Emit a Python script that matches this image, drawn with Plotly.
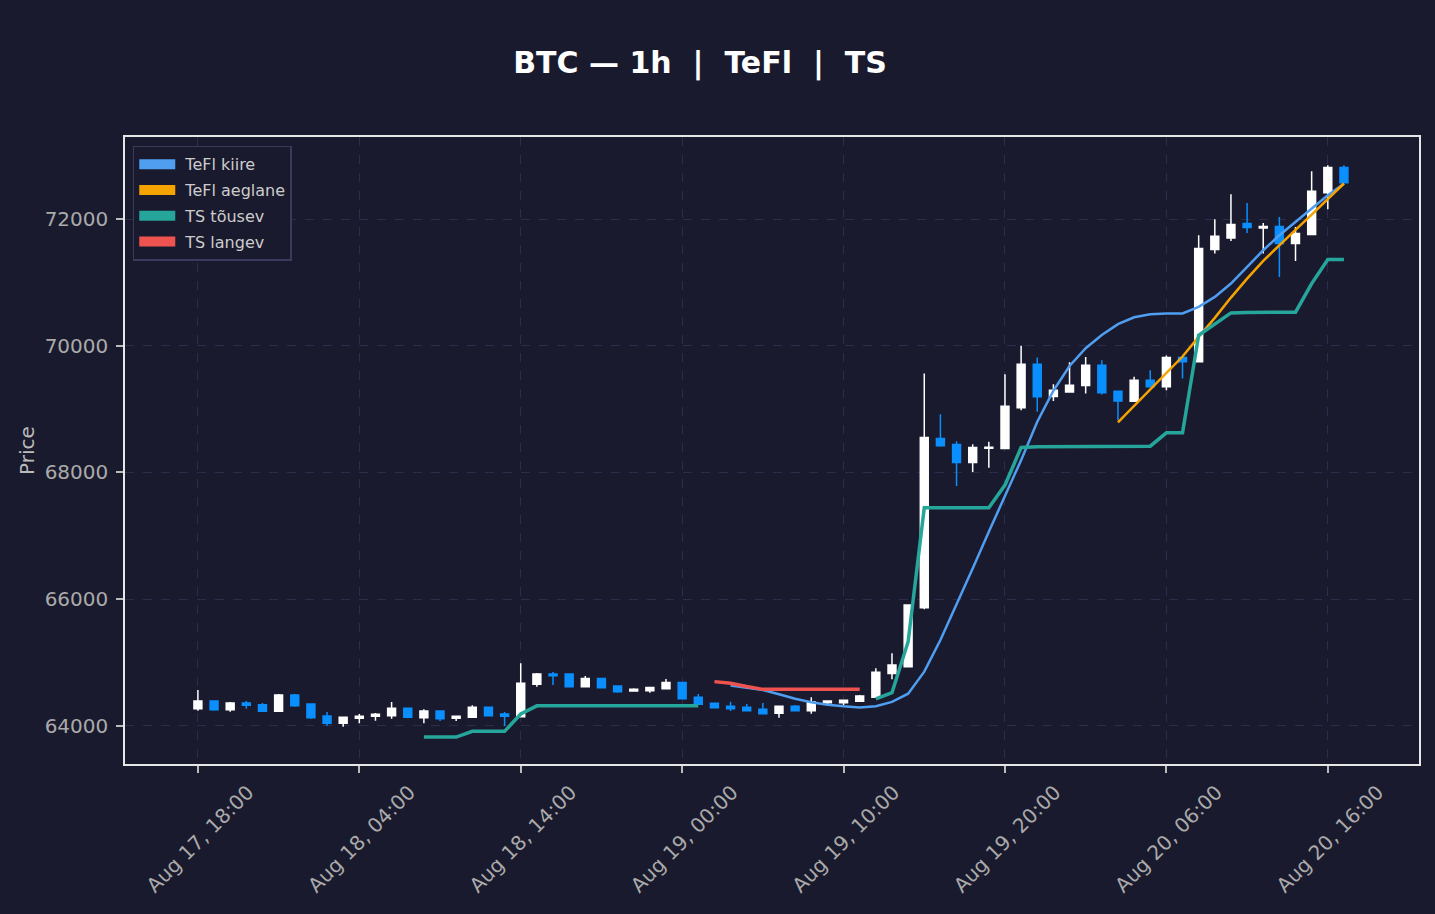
import pandas as pd
import plotly.graph_objects as go

times = pd.date_range("2024-08-17 18:00", periods=72, freq="h")

open_ = [64273, 64394, 64257, 64362, 64336, 64231, 64489, 64347, 64157, 64042,
         64121, 64152, 64163, 64278, 64131, 64236, 64121, 64136, 64294, 64189,
         64147, 64657, 64820, 64820, 64620, 64751, 64630, 64552, 64557, 64588,
         64688, 64452, 64357, 64310, 64294, 64263, 64199, 64310, 64242, 64368,
         64368, 64389, 64452, 64830, 64936, 65866, 68537, 68442, 68158, 68384,
         68379, 69020, 69709, 69199, 69272, 69372, 69693, 69283, 69125, 69456,
         69351, 69814, 69746, 71517, 71701, 71928, 71859, 71880, 71612, 71754,
         72416, 72811]
high = [64567, 64394, 64378, 64394, 64362, 64504, 64504, 64347, 64220, 64136,
        64189, 64205, 64378, 64278, 64263, 64236, 64152, 64326, 64305, 64220,
        64988, 64836, 64851, 64820, 64788, 64751, 64630, 64594, 64609, 64741,
        64699, 64504, 64357, 64383, 64347, 64362, 64310, 64331, 64452, 64404,
        64404, 64489, 64909, 65146, 65920, 69562, 68920, 68494, 68447, 68484,
        69551, 69998, 69814, 69393, 69740, 69824, 69772, 69283, 69509, 69614,
        69845, 69814, 71743, 71996, 72390, 72253, 71938, 72033, 71875, 72753,
        72847, 72847]
low = [64242, 64242, 64226, 64273, 64231, 64231, 64305, 64115, 64005, 63989,
       64042, 64084, 64115, 64121, 64042, 64079, 64079, 64136, 64163, 64000,
       64147, 64620, 64646, 64620, 64620, 64604, 64525, 64541, 64525, 64588,
       64431, 64341, 64289, 64236, 64242, 64194, 64131, 64242, 64194, 64347,
       64326, 64389, 64452, 64736, 64936, 65840, 68405, 67785, 68006, 68074,
       68379, 68983, 68957, 69130, 69272, 69246, 69230, 68826, 69125, 69351,
       69299, 69483, 69746, 71454, 71654, 71780, 71454, 71086, 71339, 71754,
       72153, 72574]
close = [64394, 64257, 64362, 64326, 64231, 64489, 64320, 64131, 64042, 64136,
         64152, 64184, 64278, 64136, 64236, 64115, 64152, 64294, 64163, 64152,
         64673, 64820, 64793, 64620, 64751, 64604, 64541, 64578, 64609, 64688,
         64431, 64341, 64289, 64273, 64242, 64194, 64310, 64242, 64378, 64394,
         64404, 64473, 64846, 64962, 65908, 68552, 68421, 68158, 68395, 68400,
         69047, 69709, 69194, 69299, 69378, 69693, 69257, 69130, 69456, 69351,
         69814, 69746, 71533, 71728, 71912, 71864, 71880, 71612, 71770, 72437,
         72811, 72574]

N = None
tefl_kiire = [N] * 33 + [64640, 64605, 64567, 64500, 64430, 64375, 64335, 64310, 64292,
                         64310, 64380, 64510, 64857, 65356, 65908, 66486, 67065, 67617,
                         68195, 68800, 69290, 69680, 69960, 70170, 70340, 70450, 70497,
                         70510, 70510, 70613, 70771, 70981, 71244, 71507, 71743, 71954,
                         72164, 72374, 72558]
tefl_aeglane = [N] * 57 + [68790, 69050, 69320, 69572, 69830, 70140, 70440, 70760, 71060,
                           71340, 71590, 71830, 72070, 72322, 72560]
ts_tousev = ([N] * 14 + [63825, 63825, 63825, 63915, 63915, 63915, 64190, 64318]
             + [64318] * 10 + [N] * 10
             + [64426, 64525, 65330, 67443, 67443, 67443, 67443, 67443, 67801, 68395,
                68405, 68405, 68410, 68415, 68415, 68415, 68415, 68415, 68626, 68626,
                70166, 70350, 70518, 70525, 70530, 70530, 70530, 70981, 71360, 71360])
ts_langev = [N] * 32 + [64700, 64673, 64622, 64578, 64578, 64578, 64578, 64578, 64578,
                        64578] + [N] * 30

BG = "#1a1a2e"
C_KIIRE = "#4f9ef0"
C_AEG = "#f5a300"
C_TOUS = "#26a69a"
C_LANG = "#ef5350"

fig = go.Figure()
fig.add_trace(go.Candlestick(
    x=times, open=open_, high=high, low=low, close=close,
    increasing=dict(line=dict(color="#ffffff", width=1.5), fillcolor="#ffffff"),
    decreasing=dict(line=dict(color="#0a8fff", width=1.5), fillcolor="#0a8fff"),
    showlegend=False, hoverinfo="skip"))

series = [("TeFl kiire", tefl_kiire, C_KIIRE, 2.5),
          ("TeFl aeglane", tefl_aeglane, C_AEG, 2.5),
          ("TS tõusev", ts_tousev, C_TOUS, 3.5),
          ("TS langev", ts_langev, C_LANG, 3.5)]
for name, vals, col, w in series:
    fig.add_trace(go.Scatter(x=times, y=vals, mode="lines", name=name,
                             line=dict(color=col, width=w), connectgaps=False,
                             showlegend=False, legendgroup=name))
for name, vals, col, w in series:
    fig.add_trace(go.Scatter(x=[None], y=[None], mode="lines", name="\u00a0" + name,
                             line=dict(color=col, width=12), legendgroup=name))

axis_common = dict(showline=True, mirror=True, linecolor="#e6e6e6", linewidth=1.5,
                   ticks="outside", ticklen=7, tickwidth=1.5, tickcolor="#bbbbbb",
                   tickfont=dict(family="DejaVu Sans", size=20, color="#aaaaaa"),
                   showgrid=True, gridcolor="#2c2c4c", griddash="dash", gridwidth=1,
                   zeroline=False)

fig.update_layout(
    width=1435, height=914,
    paper_bgcolor=BG, plot_bgcolor=BG,
    margin=dict(l=125, r=16, t=137, b=150),
    title=dict(text="BTC — 1h\u00a0\u00a0|\u00a0\u00a0TeFl\u00a0\u00a0|\u00a0\u00a0TS",
               x=700 / 1435, xanchor="center", y=1 - 62 / 914, yanchor="middle",
               font=dict(family="DejaVu Sans", size=30, color="#ffffff", weight="bold")),
    xaxis=dict(axis_common, type="date",
               range=["2024-08-17 13:29", "2024-08-20 21:39"],
               tick0="2024-08-17 18:00", dtick=10 * 3600 * 1000,
               tickformat="%b %d, %H:%M", tickangle=-45, ticklabelshift=50,
               rangeslider=dict(visible=False)),
    yaxis=dict(axis_common, range=[63400, 73294], tick0=64000, dtick=2000,
               tickformat="d", ticklabelstandoff=4,
               title=dict(text="Price", standoff=5,
                          font=dict(family="DejaVu Sans", size=20, color="#bbbbbb"))),
    legend=dict(x=0.006, y=0.986, xanchor="left", yanchor="top",
                bgcolor=BG, bordercolor="#3a3a5c", borderwidth=1.5,
                font=dict(family="DejaVu Sans", size=16, color="#cccccc"),
                itemwidth=36, traceorder="grouped", tracegroupgap=2),
    showlegend=True,
)

fig.write_html("out.html", config={"displayModeBar": False},
               post_script="document.body.style.margin='0';"
                           "document.body.style.overflow='hidden';"
                           "document.body.style.background='#1a1a2e';")
